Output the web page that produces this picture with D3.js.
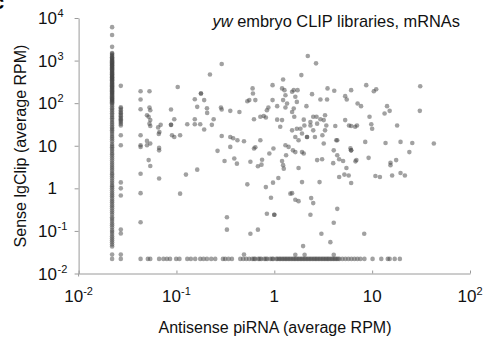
<!DOCTYPE html>
<html>
<head>
<meta charset="utf-8">
<script src="https://cdn.jsdelivr.net/npm/d3@7"></script>
<style>
  body { margin: 0; background: #fff; }
  svg { display: block; font-family: "Liberation Sans", Arial, sans-serif; }
</style>
</head>
<body>
<svg id="chart" width="485" height="339"></svg>
<script>
// Axis ticks (log10 decades)
const xTicks = [0.01, 0.1, 1, 10, 100];
const yTicks = [0.01, 0.1, 1, 10, 100, 1000, 10000];

// Genes with no antisense piRNA reads (pseudocount on x)
const zeroPiX = 0.022;
const zeroPiY = [6100, 4000, 2100, 1500, 1450, 1350, 1280, 1200, 1150, 1100, 1050, 1000, 960, 920, 880, 850,
  810, 780, 750, 720, 690, 660, 630, 600, 575, 550, 525, 500, 480, 460, 440, 420, 405, 390, 375, 360, 345,
  330, 315, 300, 288, 275, 262, 250, 240, 230, 220, 210, 200, 190, 182, 175, 168, 160, 152, 145, 138, 130,
  125, 120, 115, 110, 105, 100, 92, 84, 76, 70, 64, 58, 53, 48, 44, 40, 36, 33, 30, 27, 25, 23, 21, 19, 17,
  15.5, 14, 12.5, 11, 10, 9.2, 8.4, 7.6, 6.8, 6.2, 5.6, 5, 4.5, 4, 3.6, 3.2, 2.9, 2.6, 2.3, 2.1, 1.9, 1.7,
  1.5, 1.35, 1.2, 1.1, 1, 0.9, 0.8, 0.72, 0.65, 0.58, 0.52, 0.47, 0.42, 0.38, 0.34, 0.3, 0.27, 0.24, 0.21,
  0.19, 0.17, 0.15, 0.135, 0.12, 0.105, 0.095, 0.085, 0.075, 0.067, 0.06, 0.054, 0.048, 0.043, 0.028, 0.022];

// Genes with a single antisense piRNA read
const onePiX = 0.027;
const onePiY = [255, 80, 75, 68, 62, 58, 53, 49, 45, 42, 39, 36, 33, 30, 17.7, 10.3, 1.38, 1.0, 0.68,
  0.108, 0.087, 0.028, 0.022];

// Genes with no sense lgClip reads (pseudocount on y)
const zeroClipY = 0.022;
const zeroClipX = [0.043, 0.051, 0.054, 0.0665, 0.0736, 0.0798, 0.086, 0.0993, 0.1073, 0.129, 0.1404, 0.1554,
  0.175, 0.189, 0.205, 0.2265, 0.249, 0.2985, 0.315, 0.3405, 0.369, 0.449, 0.4816, 0.517, 0.555, 0.5955,
  0.62, 0.639, 0.686, 0.71, 0.736, 0.79, 0.82, 0.848, 0.91, 0.95, 0.977, 1.048, 1.08, 1.125, 1.16, 1.207,
  1.25, 1.296, 1.34, 1.391, 1.44, 1.493, 1.55, 1.602, 1.66, 1.72, 1.78, 1.846, 1.91, 1.98, 2.05, 2.125,
  2.2, 2.28, 2.36, 2.448, 2.54, 2.628, 2.72, 2.82, 2.92, 3.03, 3.14, 3.25, 3.37, 3.488, 3.6, 3.743, 3.88,
  4.02, 4.17, 4.31, 4.47, 4.627, 4.965, 5.331, 5.72, 6.14, 6.59, 7.07, 7.59, 8.34, 10.1, 12.4, 14.45,
  15.1, 17.0, 19.2];

// Genes detected in both libraries: [antisense piRNA, sense lgClip]
const both = [
  [0.043,190],[0.053,190],[0.043,122],[0.043,72],[0.053,79],[0.054,68],[0.050,52],[0.052,48],[0.054,40],
  [0.053,33],[0.054,29],[0.069,31],[0.065,27],[0.067,21],[0.066,19],[0.088,71],[0.088,31],[0.088,31],
  [0.095,42],[0.103,240],[0.129,32],[0.154,124],[0.154,42],[0.154,32],[0.175,32],[0.192,24],[0.178,169],
  [0.178,169],[0.192,118],[0.163,82],[0.205,76],[0.206,59],[0.24,42],[0.23,31],[0.22,470],[0.29,830],
  [0.285,79],[0.29,71],[0.355,66],[0.44,62],[0.53,111],[0.555,118],[0.60,222],[0.605,169],[0.64,118],
  [0.62,42],[0.72,48],[0.78,50],[0.82,46],[0.87,79],[0.84,68],[0.96,265],[0.96,118],[1.07,85],[1.07,41],
  [1.2,40],[1.15,28],[1.23,360],[1.2,222],[1.27,202],[1.3,154],[1.23,118],[1.3,79],[1.35,98],[0.29,17],
  [0.355,16],[0.38,15],[0.42,13.5],[0.49,12.8],[0.043,17.7],[0.043,10.3],[0.050,13],[0.054,11.3],
  [0.09,17.7],[0.095,16],[0.109,17.7],[0.64,9.2],[0.72,13.5],
  [2.2,1280],[2.67,860],[1.89,456],[1.58,202],[1.73,202],[1.52,185],[1.64,141],[1.7,107],[1.58,75],
  [1.52,62],[1.6,48],[2.13,85],[2.43,163],[2.96,122],[3.46,122],[3.5,222],[4.1,195],[2.0,41],[2.34,36],
  [2.5,48],[2.7,48],[2.96,42],[3.3,52],[3.2,40],[2.03,30],[1.85,25],[1.7,25],[1.92,19.4],[2.16,16],
  [2.16,16],[2.34,30],[2.74,33],[3.4,30],[3.3,23],[3.1,17.7],[2.5,23],[2.6,16],[4.2,29],[4.3,13.5],
  [5.3,146],[5.5,122],[6.1,202],[5.3,40],[5.8,30],[6.1,29],[6.7,28],[7.0,30],[7.1,98],[7.7,85],[8.7,265],
  [10.4,190],[11,213],[9.4,48],[9.8,32],[10,25],[8.5,12.3],[14.2,85],[13.4,57],[15.1,66],[18,30],
  [13.7,11.6],[19.5,12.3],[25.7,11.6],[31,250],[30.7,66],[42.7,11.3],[3.2,11.3],[4.4,13.5],[6.0,8.7],
  [1.52,23],[1.64,16],[1.77,13.5],
  [0.043,9.4],[0.050,10.3],[0.043,2.2],[0.052,4.6],[0.054,3.35],[0.043,0.77],[0.043,0.16],[0.0665,8.9],
  [0.0665,7.8],[0.0665,1.7],[0.109,0.75],[0.125,2.1],[0.163,2.75],[0.263,7.6],[0.31,4.4],[0.355,9.4],
  [0.39,5.0],[0.415,3.8],[0.328,0.21],[0.328,0.107],[0.49,0.028],[0.53,1.24],[0.57,4.2],[0.57,0.086],
  [0.62,8.6],[0.68,0.107],[0.68,3.3],[0.74,3.6],[0.75,4.7],[0.82,1.07],[0.84,0.254],[0.89,6.6],
  [0.925,0.60],[0.97,1.36],[1.0,0.24],[1.0,0.24],[0.98,8.6],[1.1,1.75],[1.2,4.4],[1.23,3.5],[1.25,2.9],
  [1.32,6.0],[1.46,0.75],[1.3,10.3],[1.4,9.4],[1.55,7.8],[1.64,7.1],[1.92,7.1],[2.0,6.6],[1.77,3.0],
  [1.92,1.4],[1.52,0.77],[1.64,0.54],[1.77,0.50],[2.38,0.59],[2.5,0.45],[2.34,0.24],[2.74,4.6],[3.08,4.8],
  [2.9,1.4],[3.03,0.086],[1.97,0.044],[1.64,0.0275],[2.04,0.0275],[4.05,7.8],[4.4,6.0],[4.6,4.8],
  [5.05,4.4],[4.0,3.9],[5.46,3.0],[4.6,1.85],[5.2,2.1],[5.76,2.0],[6.1,1.33],[6.1,7.8],[6.1,7.8],
  [6.75,4.3],[6.9,4.6],[9.2,5.2],[4.4,0.33],[4.05,0.156],[3.74,0.0545],[4.05,0.0275],[8.3,0.086],
  [10.8,1.95],[12,1.85],[15.4,4.0],[15.4,3.5],[17.6,4.6],[16,2.0],[19.5,2.3],[21.6,2.0],[24,7.1]
];

const svg = d3.select("#chart");
const x = d3.scaleLog().domain([0.01, 100]).range([78.6, 470]);
const y = d3.scaleLog().domain([0.01, 10000]).range([273.5, 18]);
const axisColor = "#9a9a9a";

// Combine every gene into one point list
const points = [
  ...zeroPiY.map(v => [zeroPiX, v]),
  ...onePiY.map(v => [onePiX, v]),
  ...zeroClipX.map(v => [v, zeroClipY]),
  ...both
];

// Axes
const yAxis = svg.append("g")
  .attr("transform", `translate(${x(0.01)},0)`)
  .call(d3.axisLeft(y).tickValues(yTicks).tickSize(4).tickSizeOuter(0).tickFormat(""));
const xAxis = svg.append("g")
  .attr("transform", `translate(0,${y(0.01)})`)
  .call(d3.axisTop(x).tickValues(xTicks).tickSize(3).tickSizeOuter(0).tickFormat(""));
[xAxis, yAxis].forEach(g => {
  g.selectAll("path.domain").attr("stroke", axisColor).attr("stroke-width", 1);
  g.selectAll(".tick line").attr("stroke", axisColor).attr("stroke-width", 1);
});
// short extension of the y axis below the x axis
svg.append("line")
  .attr("x1", x(0.01)).attr("x2", x(0.01))
  .attr("y1", y(0.01)).attr("y2", y(0.01) + 3)
  .attr("stroke", axisColor);

// Points
svg.append("g")
  .selectAll("circle")
  .data(points)
  .join("circle")
  .attr("cx", d => x(d[0]))
  .attr("cy", d => y(d[1]))
  .attr("r", 2.3)
  .attr("fill", "#444")
  .attr("fill-opacity", 0.5);

// Tick labels written as powers of ten
const exponent = v => Math.round(Math.log10(v));
const plain = v => exponent(v) === 0 || exponent(v) === 1;

yTicks.forEach(v => {
  const ty = y(v) + 6;
  svg.append("text")
    .attr("x", 57).attr("y", ty)
    .attr("text-anchor", "end")
    .attr("font-size", 17).attr("fill", "#111")
    .text(plain(v) ? String(v) : "10");
  if (!plain(v)) {
    svg.append("text")
      .attr("x", 57.5).attr("y", ty - 7)
      .attr("font-size", 11).attr("fill", "#111")
      .text(exponent(v));
  }
});

xTicks.forEach(v => {
  const t = svg.append("text")
    .attr("x", x(v)).attr("y", 302)
    .attr("text-anchor", "middle")
    .attr("font-size", 17).attr("fill", "#111");
  if (plain(v)) {
    t.text(String(v));
  } else {
    t.append("tspan").text("10");
    t.append("tspan").attr("font-size", 11).attr("dy", -7).text(exponent(v));
  }
});

// Axis titles
svg.append("text")
  .attr("x", 275).attr("y", 333)
  .attr("text-anchor", "middle")
  .attr("font-size", 16).attr("fill", "#111")
  .text("Antisense piRNA (average RPM)");
svg.append("text")
  .attr("transform", `translate(26,146) rotate(-90)`)
  .attr("text-anchor", "middle")
  .attr("font-size", 16).attr("fill", "#111")
  .text("Sense lgClip (average RPM)");

// Panel title
const title = svg.append("text")
  .attr("x", 460).attr("y", 27)
  .attr("text-anchor", "end")
  .attr("font-size", 16.4).attr("fill", "#111");
title.append("tspan").attr("font-style", "italic").text("yw");
title.append("tspan").text(" embryo CLIP libraries, mRNAs");

// Panel letter at the page corner
svg.append("text")
  .attr("x", -7).attr("y", 9)
  .attr("font-size", 20).attr("font-weight", "bold").attr("fill", "#000")
  .text("c");
</script>
</body>
</html>
